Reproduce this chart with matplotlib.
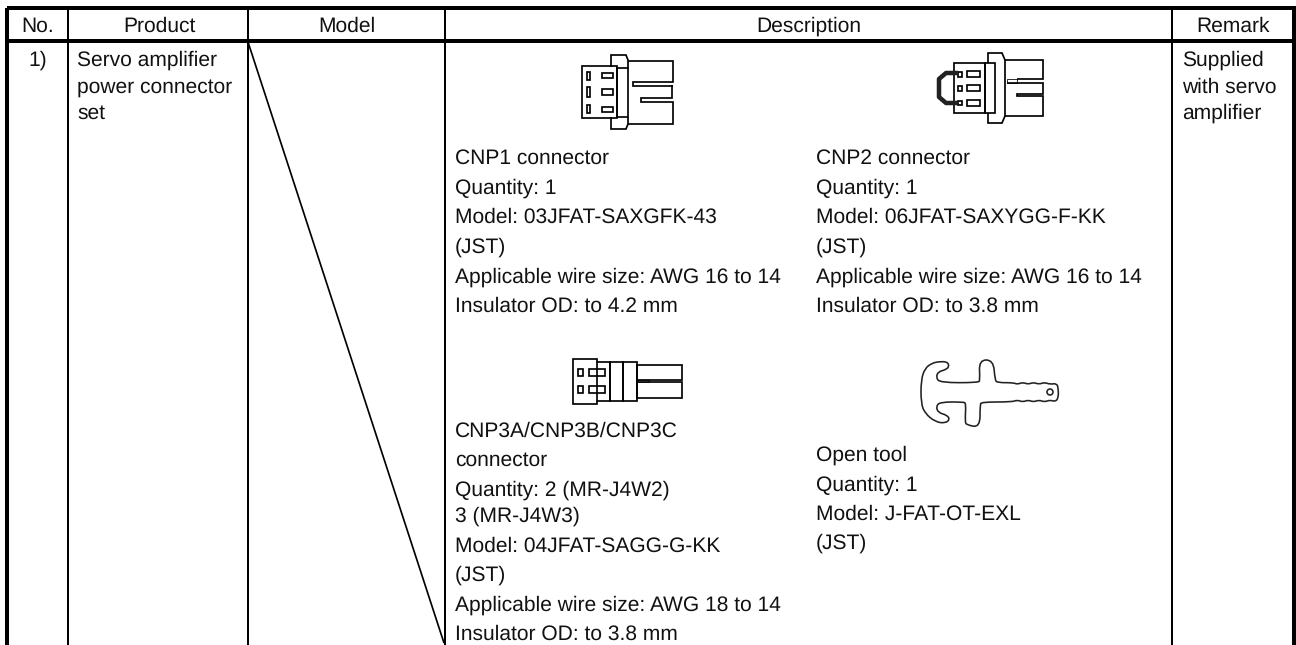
# -*- coding: utf-8 -*-
import numpy as np
import matplotlib
matplotlib.use('agg')
import matplotlib.pyplot as plt
from matplotlib.path import Path
from matplotlib.patches import PathPatch, Rectangle, Circle

WIDTH, HEIGHT = 1296, 645
PX = 0.72

# table layout, in pixels of the picture
column_lines = [68, 248, 445, 1172]
header_labels = ['No.', 'Product', 'Model', 'Description', 'Remark']
header_centers = [38, 159, 347, 809, 1233]

row_no = '1)'
product_lines = ['Servo amplifier', 'power connector', 'set']
remark_lines = ['Supplied', 'with servo', 'amplifier']
cnp1_lines = ['CNP1 connector', 'Quantity: 1', 'Model: 03JFAT-SAXGFK-43', '(JST)',
              'Applicable wire size: AWG 16 to 14', 'Insulator OD: to 4.2 mm']
cnp2_lines = ['CNP2 connector', 'Quantity: 1', 'Model: 06JFAT-SAXYGG-F-KK', '(JST)',
              'Applicable wire size: AWG 16 to 14', 'Insulator OD: to 3.8 mm']
cnp3_lines = ['CNP3A/CNP3B/CNP3C', 'connector', 'Quantity: 2 (MR-J4W2)', '3 (MR-J4W3)',
              'Model: 04JFAT-SAGG-G-KK', '(JST)',
              'Applicable wire size: AWG 18 to 14', 'Insulator OD: to 3.8 mm']
cnp3_baselines = [437, 466, 496, 522, 552, 581, 611, 640]
tool_lines = ['Open tool', 'Quantity: 1', 'Model: J-FAT-OT-EXL', '(JST)']

# outline of the open tool, control points
tool_outline = [(85, 35), (112, 35), (118, 50), (105, 60), (85, 65), (78, 82), (90, 98), (205, 98),
                (210, 90), (207, 30), (250, 30), (255, 90), (262, 98), (310, 98), (322, 103),
                (338, 97), (355, 103), (370, 97), (387, 103), (403, 97), (420, 103), (440, 100),
                (445, 115), (445, 145), (435, 155), (420, 150), (403, 156), (387, 150), (370, 156),
                (355, 150), (338, 156), (322, 150), (305, 156), (215, 156), (210, 165), (210, 232),
                (170, 225), (165, 215), (168, 160), (160, 156), (90, 156), (78, 170), (85, 188),
                (110, 195), (120, 208), (105, 220), (75, 215), (45, 190), (33, 160), (33, 90),
                (45, 55), (65, 40)]

plt.rcParams['font.family'] = ['Liberation Sans', 'DejaVu Sans']
plt.rcParams['text.hinting'] = 'none'
plt.rcParams['text.hinting_factor'] = 1
FONT_SIZE = 21.3 * PX
INK = '#111111'

fig = plt.figure(figsize=(WIDTH / 100, HEIGHT / 100), dpi=100)
ax = fig.add_axes([0, 0, 1, 1])
ax.set_xlim(0, WIDTH)
ax.set_ylim(HEIGHT, 0)
ax.axis('off')


def line(xs, ys, width=1.7):
    ax.plot(xs, ys, color='black', lw=width * PX, solid_capstyle='butt', solid_joinstyle='miter')


def box(x0, y0, x1, y1, width=1.7):
    ax.add_patch(Rectangle((x0, y0), x1 - x0, y1 - y0, fill=False, ec='black', lw=width * PX))


def text_block(x, baselines, lines):
    for y, t in zip(baselines, lines):
        ax.text(x, y, t, fontsize=FONT_SIZE, color=INK, ha='left', va='baseline')


def smooth_closed(points):
    # quadratic b-spline through the midpoints of the control polygon
    pts = np.array(points, dtype=float)
    mids = (pts + np.roll(pts, -1, axis=0)) / 2
    verts = [mids[-1]]
    codes = [Path.MOVETO]
    for i in range(len(pts)):
        verts += [pts[i], mids[i]]
        codes += [Path.CURVE3, Path.CURVE3]
    return Path(verts, codes)


# table frame
ax.add_patch(Rectangle((7, 8), 1287, 700, fill=False, ec='black', lw=4 * PX))
line([7, 1294], [41, 41], 4)
for x in column_lines:
    line([x, x], [8, HEIGHT + 2], 2)
line([248, 444], [42, 643], 1.7)

for label, cx in zip(header_labels, header_centers):
    ax.text(cx, 32, label, fontsize=FONT_SIZE, color=INK, ha='center', va='baseline')

ax.text(38, 66, row_no, fontsize=FONT_SIZE, color=INK, ha='center', va='baseline')
text_block(77, [66, 92.5, 119], product_lines)
text_block(1182, [66, 92.5, 119], remark_lines)
text_block(455, [164 + i * 29.6 for i in range(6)], cnp1_lines)
text_block(816, [164 + i * 29.6 for i in range(6)], cnp2_lines)
text_block(455, cnp3_baselines, cnp3_lines)
text_block(816, [461 + i * 29.3 for i in range(4)], tool_lines)

# CNP1 connector
box(582, 66, 617, 118)
box(617, 68, 628, 117)
line([611, 611, 626, 628, 628], [67, 55, 55, 60, 68])
line([611, 611, 626, 628, 628], [117, 129, 129, 124, 117])
line([628, 673, 673, 633, 633, 673, 672, 672, 641, 641, 673, 673, 628],
     [61, 61, 82, 82, 86, 86, 86, 98, 98, 102, 102, 124, 124])
for y0, y1 in [(72, 80), (87, 97), (105, 113)]:
    box(587, y0, 590, y1)
for y0, y1 in [(73, 78), (89, 95), (107, 112)]:
    box(602, y0, 613, y1)

# CNP2 connector
box(954, 63, 985, 113)
box(985, 63, 995, 113)
line([988, 988, 1002, 1005, 1005, 1002, 988, 988], [63, 53, 53, 60, 116, 123, 123, 113])
line([1005, 1043, 1043, 1017], [60, 60, 79, 79])
line([1007, 1043, 1043, 1017, 1017, 1043, 1043, 1005], [83, 83, 94, 94, 96, 96, 116, 116])
box(1007, 79, 1017, 83, 0.8)
for y0, y1 in [(72, 77), (86, 91), (101, 105)]:
    box(958, y0, 962, y1)
for y0, y1 in [(71, 77), (85, 91), (100, 106)]:
    box(967, y0, 980, y1)
ax.plot([958, 946, 939, 939, 946, 958], [73, 73, 79, 97, 103, 103], color='#222222',
        lw=4.5 * PX, solid_joinstyle='round', solid_capstyle='butt')

# CNP3 connector
line([597, 597, 573, 573, 597, 597], [362, 359, 359, 404, 404, 401])
box(597, 362, 610, 401)
box(610, 362, 623, 401)
box(623, 362, 637, 401)
box(637, 365, 682, 380)
box(637, 382, 682, 398)
box(637, 380, 649, 382, 0.8)
for y0, y1 in [(369, 376), (386, 393)]:
    box(578, y0, 583, y1)
    box(589, y0, 605, y1)

# open tool
tool_px = [(910 + x / 3, 350 + y / 3) for x, y in tool_outline]
ax.add_patch(PathPatch(smooth_closed(tool_px), fill=False, ec='#222222', lw=1.6 * PX))
ax.add_patch(Circle((1050, 392), 3, fill=False, ec='#222222', lw=1.6 * PX))

fig.savefig('out.png', dpi=100)
